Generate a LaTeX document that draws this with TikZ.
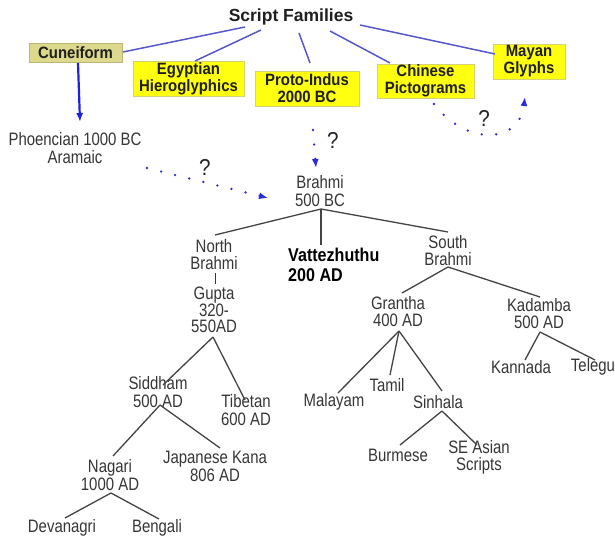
\documentclass[tikz,border=0pt]{standalone}
\usepackage{fontspec}
\setmainfont{Liberation Sans}
\newfontfamily\regnarrow[FakeStretch=0.83]{Liberation Sans}
\newfontfamily\boldnarrow[FakeStretch=0.87]{Liberation Sans}
\newfontfamily\boxnarrow[FakeStretch=0.91]{Liberation Sans}
\newfontfamily\qfont[FakeStretch=0.9]{Liberation Sans}
\usetikzlibrary{arrows.meta}
\definecolor{txt}{HTML}{363636}
\definecolor{treeline}{HTML}{444444}
\definecolor{famline}{HTML}{5858CC}
\definecolor{arrblue}{HTML}{2020E0}
\definecolor{dotblue}{HTML}{2A2AE0}
\definecolor{boxyellow}{HTML}{FFFF10}
\definecolor{boxedge}{HTML}{D2D27A}
\definecolor{khaki}{HTML}{DCD88C}
\begin{document}
\begin{tikzpicture}[x=1pt,y=-1pt,
  lbl/.style={inner sep=0pt, align=center, text=txt, font=\regnarrow\fontsize{18}{17.5}\selectfont},
  famhead/.style={inner sep=0pt, font=\bfseries\fontsize{17.5}{20}\selectfont, text=black!88},
  ybox/.style={inner sep=0pt, align=center, fill=boxyellow, draw=boxedge, line width=0.6pt,
    font=\boxnarrow\bfseries\fontsize{16.4}{17}\selectfont, text=black!88},
  kbox/.style={ybox, fill=khaki, draw=khaki!85!black},
  qmark/.style={inner sep=0pt, font=\qfont\fontsize{23}{24}\selectfont, text=black!85},
  tree/.style={draw=treeline, line width=1.3pt},
  famlink/.style={draw=famline, line width=1.5pt},
  solidarrow/.style={draw=arrblue, line width=2.2pt, -{Latex[length=9pt,width=7pt]}},
  dotarrow/.style={draw=dotblue, line width=2.6pt, line cap=round, dash pattern=on 0pt off 14.5pt,
    -{Latex[length=9pt,width=7pt]}}
]
\fill[white] (0,0) rectangle (615,538);
\useasboundingbox (0,0) rectangle (615,538);

% header and family boxes
\node[famhead] (sf) at (291,17) {Script Families};
\node[kbox, minimum width=93pt, minimum height=19pt] (cun) at (75.5,52.5) {Cuneiform};
\node[ybox, minimum width=111pt, minimum height=35pt] (egy) at (188.5,78.5) {Egyptian\\Hieroglyphics};
\node[ybox, minimum width=104pt, minimum height=35pt] (pro) at (307,88.5) {Proto-Indus\\2000 BC};
\node[ybox, minimum width=97pt, minimum height=34pt] (chi) at (425.5,81) {Chinese\\Pictograms};
\node[ybox, minimum width=72pt, minimum height=35pt] (may) at (529,61.5) {Mayan\\Glyphs};

% tree text nodes
\node[lbl] (phoe) at (75,148) {Phoencian 1000 BC\\Aramaic};
\node[lbl] (brahmi) at (320,191) {Brahmi\\500 BC};
\node[lbl, text=black, font=\boldnarrow\bfseries\fontsize{18.5}{20}\selectfont, align=left, anchor=west] (vat) at (288,265) {Vattezhuthu\\200 AD};
\node[lbl, font=\regnarrow\fontsize{18}{16.5}\selectfont] (nb) at (214,254.5) {North\\Brahmi};
\node[lbl, font=\regnarrow\fontsize{18}{16.5}\selectfont] (gupta) at (214,310) {Gupta\\320-\\550AD};
\node[lbl] (sb) at (448,250.5) {South\\Brahmi};
\node[lbl] (gra) at (398,311.5) {Grantha\\400 AD};
\node[lbl] (kad) at (539,313.5) {Kadamba\\500 AD};
\node[lbl] (sid) at (158,392) {Siddham\\500 AD};
\node[lbl] (tib) at (246,410) {Tibetan\\600 AD};
\node[lbl] (mal) at (334,402) {Malayam};
\node[lbl] (tam) at (387,385) {Tamil};
\node[lbl] (sin) at (438,402) {Sinhala};
\node[lbl] (kan) at (521,367) {Kannada};
\node[lbl] (tel) at (593,367) {Telegu};
\node[lbl] (nag) at (110,475) {Nagari\\1000 AD};
\node[lbl] (jap) at (215,466.5) {Japanese Kana\\806 AD};
\node[lbl] (bur) at (398,455) {Burmese};
\node[lbl] (sea) at (479,457.5) {SE Asian\\Scripts};
\node[lbl] (dev) at (62,528) {Devanagri};
\node[lbl] (ben) at (157,528) {Bengali};

% question marks
\node[qmark] (q1) at (333,140) {?};
\node[qmark] (q2) at (205,167) {?};
\node[qmark] (q3) at (484,118) {?};

% family links
\draw[famlink] ([shift={(-46,10)}]sf.center) -- ([shift={(47.5,-0.5)}]cun.center);
\draw[famlink] ([shift={(-30,13)}]sf.center) -- ([shift={(6.5,-17.5)}]egy.center);
\draw[famlink] ([shift={(8,16)}]sf.center) -- ([shift={(3,-25.5)}]pro.center);
\draw[famlink] ([shift={(39,14)}]sf.center) -- ([shift={(-35.5,-18)}]chi.center);
\draw[famlink] ([shift={(69,8)}]sf.center) -- ([shift={(-34,-7.5)}]may.center);

% arrows
\draw[solidarrow] ([shift={(2.5,10.5)}]cun.center) -- ([shift={(5,-26)}]phoe.center);
\draw[dotarrow] ([shift={(72,20)}]phoe.center) -- ([shift={(-52,7)}]brahmi.center);
\draw[dotarrow] ([shift={(6,41.5)}]pro.center) -- ([shift={(-4,-23)}]brahmi.center);
\draw[dotarrow] ([shift={(8.5,23)}]chi.center) .. controls (465,145) and (519,145) .. ([shift={(-4,35.5)}]may.center);

% tree edges
\draw[tree] ([shift={(1,18)}]brahmi.center) -- ([shift={(1,-19.5)}]nb.center);
\draw[tree] ([shift={(1,18)}]brahmi.center) -- ([shift={(33,-20)}]vat.west);
\draw[tree] ([shift={(1,18)}]brahmi.center) -- ([shift={(0,-18.5)}]sb.center);
\draw[draw=txt, line width=0.9pt] ([shift={(1,18.5)}]nb.center) -- ([shift={(1,-26)}]gupta.center);

\draw[tree] ([shift={(0,16.5)}]sb.center) -- ([shift={(4,-18.5)}]gra.center);
\draw[tree] ([shift={(0,16.5)}]sb.center) -- ([shift={(1,-16.5)}]kad.center);

\draw[tree] ([shift={(-1,27)}]gupta.center) -- ([shift={(5,-7)}]sid.center);
\draw[tree] ([shift={(-1,27)}]gupta.center) -- ([shift={(-1,-10)}]tib.center);

\draw[tree] ([shift={(1,19.5)}]gra.center) -- ([shift={(4,-9)}]mal.center);
\draw[tree] ([shift={(1,19.5)}]gra.center) -- ([shift={(3,-10)}]tam.center);
\draw[tree] ([shift={(1,19.5)}]gra.center) -- ([shift={(4,-11)}]sin.center);

\draw[tree] ([shift={(1,18.5)}]kad.center) -- ([shift={(4,-7)}]kan.center);
\draw[tree] ([shift={(1,18.5)}]kad.center) -- ([shift={(2,-7)}]tel.center);

\draw[tree] ([shift={(2,13)}]sid.center) -- ([shift={(3,-19)}]nag.center);
\draw[tree] ([shift={(2,13)}]sid.center) -- ([shift={(5,-18.5)}]jap.center);

\draw[tree] ([shift={(4,9)}]sin.center) -- ([shift={(2,-10)}]bur.center);
\draw[tree] ([shift={(4,9)}]sin.center) -- ([shift={(-2,-12.5)}]sea.center);

\draw[tree] ([shift={(1,18)}]nag.center) -- ([shift={(3,-10)}]dev.center);
\draw[tree] ([shift={(1,18)}]nag.center) -- ([shift={(2,-9)}]ben.center);
\end{tikzpicture}
\end{document}
